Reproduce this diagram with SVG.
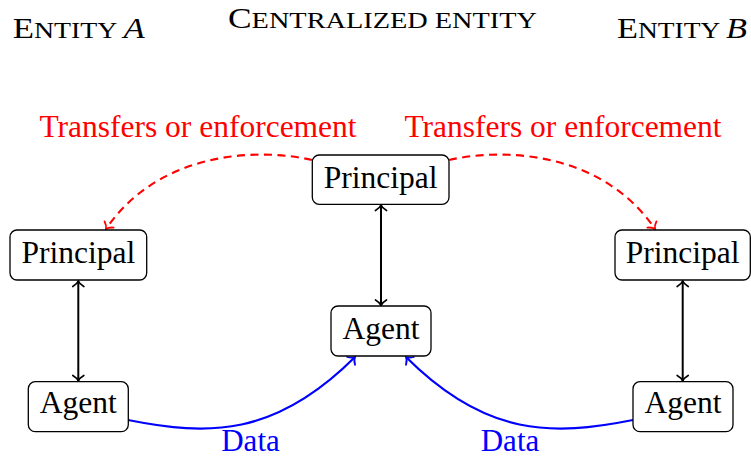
<svg xmlns="http://www.w3.org/2000/svg" width="751" height="458" viewBox="0 0 751 458">
<defs>
<style>
.box{fill:#fff;stroke:#000;stroke-width:1.3}
.lbl{font-family:"Liberation Serif","Times New Roman",serif;font-size:31.5px;fill:#000;text-anchor:middle}
.ttl{font-family:"Liberation Serif","Times New Roman",serif;fill:#000}
.blk{fill:none;stroke:#000;stroke-width:2}
.red{fill:none;stroke:#f00;stroke-width:2.1;stroke-dasharray:8,5.5}
.blu{fill:none;stroke:#00f;stroke-width:2.2}
</style>
<marker id="ak" viewBox="-7 -7 8 14" markerWidth="8" markerHeight="14" refX="0" refY="0" orient="auto-start-reverse" markerUnits="userSpaceOnUse">
<path d="M-5.5,-5.5 C-3.5,-2 -1.2,-0.5 0,0 C-1.2,0.5 -3.5,2 -5.5,5.5" fill="none" stroke="#000" stroke-width="1.7" stroke-linecap="round"/>
</marker>
<marker id="ar" viewBox="-7 -7 8 14" markerWidth="8" markerHeight="14" refX="0" refY="0" orient="auto" markerUnits="userSpaceOnUse">
<path d="M-5.5,-5.5 C-3.5,-2 -1.2,-0.5 0,0 C-1.2,0.5 -3.5,2 -5.5,5.5" fill="none" stroke="#f00" stroke-width="1.8" stroke-linecap="round"/>
</marker>
<marker id="ab" viewBox="-7 -7 8 14" markerWidth="8" markerHeight="14" refX="0" refY="0" orient="auto" markerUnits="userSpaceOnUse">
<path d="M-5.5,-5.5 C-3.5,-2 -1.2,-0.5 0,0 C-1.2,0.5 -3.5,2 -5.5,5.5" fill="none" stroke="#00f" stroke-width="1.8" stroke-linecap="round"/>
</marker>
</defs>
<rect width="751" height="458" fill="#fff"/>

<g id="titles">
<text class="ttl" x="12.7" y="38.3" textLength="132" lengthAdjust="spacingAndGlyphs"><tspan font-size="30">E</tspan><tspan font-size="24">NTITY </tspan><tspan font-size="30" font-style="italic">A</tspan></text>
<text class="ttl" x="228" y="28.3" textLength="309" lengthAdjust="spacingAndGlyphs"><tspan font-size="30">C</tspan><tspan font-size="24">ENTRALIZED ENTITY</tspan></text>
<text class="ttl" x="617" y="38.3" textLength="130" lengthAdjust="spacingAndGlyphs"><tspan font-size="30">E</tspan><tspan font-size="24">NTITY </tspan><tspan font-size="30" font-style="italic">B</tspan></text>
</g>

<g id="connectors">
<line class="blk" x1="78.3" y1="281" x2="78.3" y2="381" marker-start="url(#ak)" marker-end="url(#ak)"/>
<line class="blk" x1="381" y1="205" x2="381" y2="305.5" marker-start="url(#ak)" marker-end="url(#ak)"/>
<line class="blk" x1="682.7" y1="281" x2="682.7" y2="381" marker-start="url(#ak)" marker-end="url(#ak)"/>
<path class="red" d="M312,160 C260,148 160,150 106,229" marker-end="url(#ar)"/>
<path class="red" d="M449,160 C501,148 601,150 655,229" marker-end="url(#ar)"/>
<path class="blu" d="M128,420 C208,436 275,437 355,357" marker-end="url(#ab)"/>
<path class="blu" d="M633,420 C553,436 486,437 406,357" marker-end="url(#ab)"/>
<text x="198" y="137" font-family="Liberation Serif, serif" font-size="31.5" fill="#f00" text-anchor="middle">Transfers or enforcement</text>
<text x="563" y="137" font-family="Liberation Serif, serif" font-size="31.5" fill="#f00" text-anchor="middle">Transfers or enforcement</text>
<text x="250.5" y="451" font-family="Liberation Serif, serif" font-size="31" fill="#00f" text-anchor="middle">Data</text>
<text x="510" y="451" font-family="Liberation Serif, serif" font-size="31" fill="#00f" text-anchor="middle">Data</text>
</g>

<g id="principal-a">
<rect class="box" x="10" y="230" width="136.7" height="50" rx="7"/>
<text class="lbl" x="78.3" y="263.3">Principal</text>
</g>
<g id="agent-a">
<rect class="box" x="28.3" y="381.7" width="100" height="50" rx="7"/>
<text class="lbl" x="78.3" y="413.3">Agent</text>
</g>
<g id="principal-c">
<rect class="box" x="312.3" y="155" width="136.7" height="49.3" rx="7"/>
<text class="lbl" x="380.7" y="188">Principal</text>
</g>
<g id="agent-c">
<rect class="box" x="331" y="306" width="100" height="50" rx="7"/>
<text class="lbl" x="381" y="338.5">Agent</text>
</g>
<g id="principal-b">
<rect class="box" x="615" y="230" width="135.3" height="50" rx="7"/>
<text class="lbl" x="682.7" y="263.3">Principal</text>
</g>
<g id="agent-b">
<rect class="box" x="633" y="381.7" width="100" height="50" rx="7"/>
<text class="lbl" x="683" y="413.3">Agent</text>
</g>
</svg>
